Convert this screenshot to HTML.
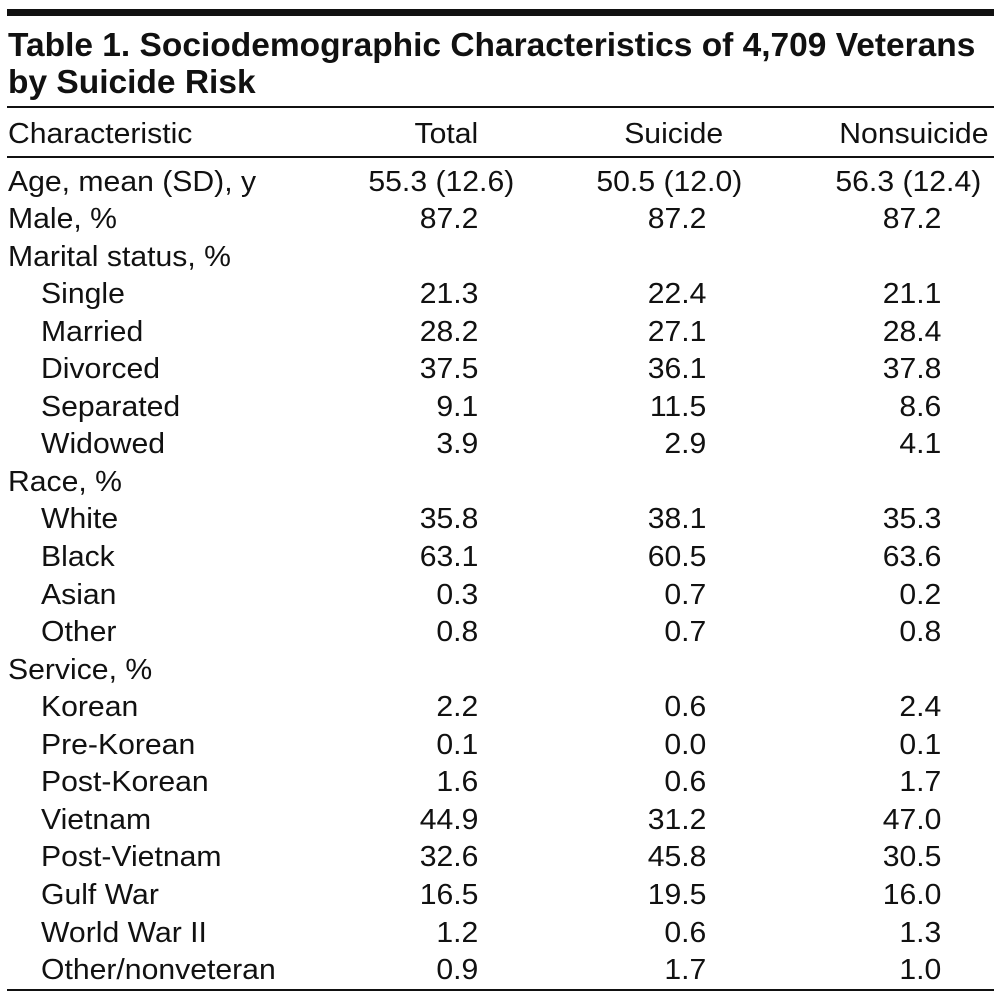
<!DOCTYPE html>
<html><head><meta charset="utf-8"><style>
body{margin:0;width:1001px;height:1002px;background:#fff;position:relative;overflow:hidden;font-family:"Liberation Sans",sans-serif;color:#111}
.l{position:absolute;left:7px;right:7px;background:#111}
.t{position:absolute;white-space:nowrap;font-size:29px;line-height:30px;transform:scaleX(1.04);}
.lft{transform-origin:left center}
.rt{transform-origin:right center;text-align:right}
.title{position:absolute;left:8px;font-weight:bold;font-size:33px;white-space:nowrap;transform-origin:left top;transform:scaleX(1.015)}
</style></head><body>
<div class="l" style="top:9px;height:7px"></div>
<div class="title" style="top:26px;line-height:37px">Table 1. Sociodemographic Characteristics of 4,709 Veterans<br>by Suicide Risk</div>
<div class="l" style="top:106px;height:2px"></div>
<div class="l" style="top:156px;height:2px"></div>
<div class="l" style="top:989px;height:2px"></div>
<div id="tb"></div>
<script>
const labels=["Age, mean (SD), y","Male, %","Marital status, %","Single","Married","Divorced","Separated","Widowed","Race, %","White","Black","Asian","Other","Service, %","Korean","Pre-Korean","Post-Korean","Vietnam","Post-Vietnam","Gulf War","World War II","Other/nonveteran"];
const indent=[0,0,0,1,1,1,1,1,0,1,1,1,1,0,1,1,1,1,1,1,1,1];
const total=["55.3 (12.6)","87.2","","21.3","28.2","37.5","9.1","3.9","","35.8","63.1","0.3","0.8","","2.2","0.1","1.6","44.9","32.6","16.5","1.2","0.9"];
const suicide=["50.5 (12.0)","87.2","","22.4","27.1","36.1","11.5","2.9","","38.1","60.5","0.7","0.7","","0.6","0.0","0.6","31.2","45.8","19.5","0.6","1.7"];
const nonsuicide=["56.3 (12.4)","87.2","","21.1","28.4","37.8","8.6","4.1","","35.3","63.6","0.2","0.8","","2.4","0.1","1.7","47.0","30.5","16.0","1.3","1.0"];
const tb=document.getElementById('tb');
function cell(txt,y,x,right,name){
  const d=document.createElement('div');
  d.className='t '+(right?'rt':'lft');
  d.textContent=txt;
  d.style.top=(y-15)+'px';
  if(right){d.style.right=(1001-x)+'px';}else{d.style.left=x+'px';}
  
  
  tb.appendChild(d);
}
cell("Characteristic",134,8,false,"header-characteristic");
cell("Total",134,478,true,"header-total");
cell("Suicide",134,723,true,"header-suicide");
cell("Nonsuicide",134,988,true,"header-nonsuicide");
labels.forEach((lb,i)=>{
  const y=181.5+i*37.55;
  cell(lb,y,indent[i]?41:8,false,"row-label");
  const ext=total[i].includes("(");
  if(total[i])cell(total[i],y,ext?514:478,true,"total-value");
  if(suicide[i])cell(suicide[i],y,ext?742:706,true,"suicide-value");
  if(nonsuicide[i])cell(nonsuicide[i],y,ext?981:941,true,"nonsuicide-value");
});
</script>
</body></html>
